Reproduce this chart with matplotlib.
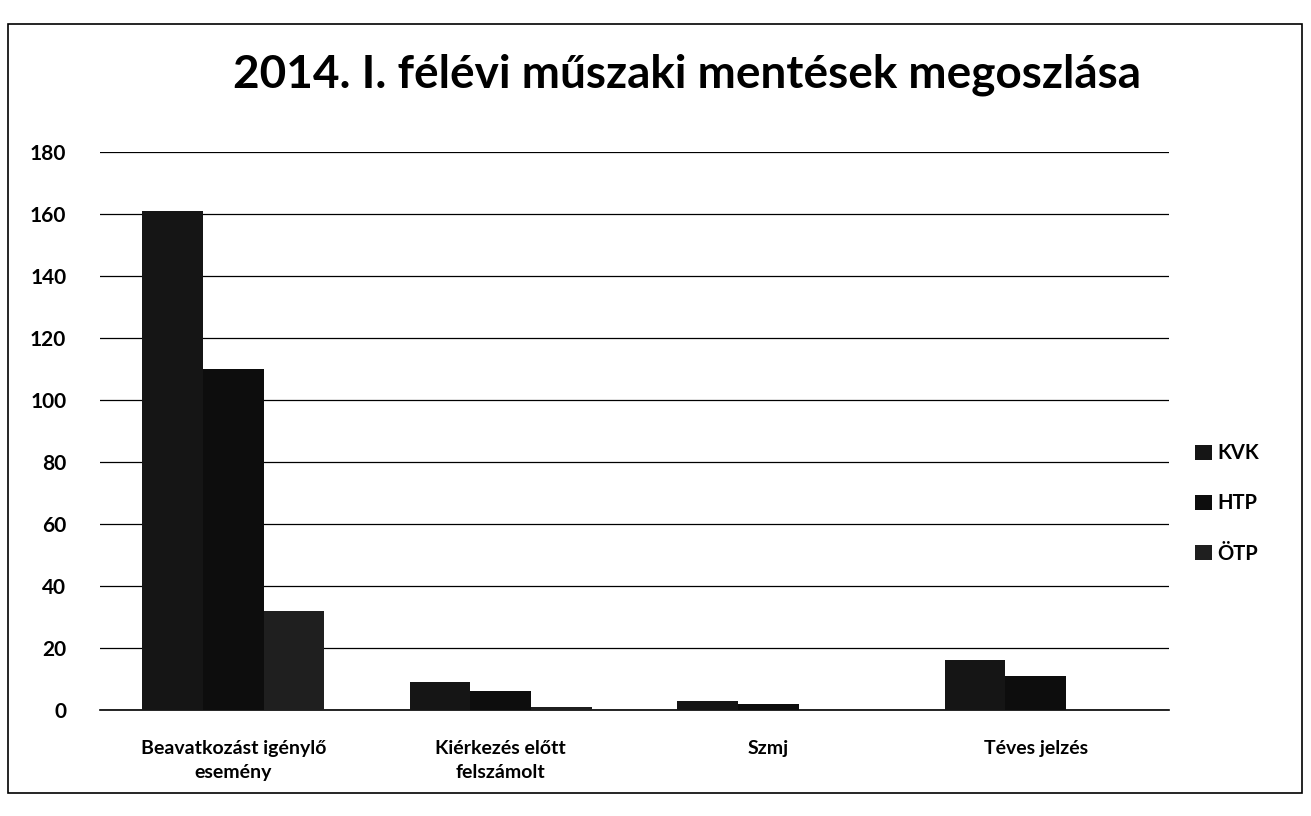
import matplotlib
matplotlib.use("Agg")
import matplotlib.pyplot as plt
from matplotlib.patches import Rectangle
import numpy as np

plt.rcParams['font.family'] = ['Lato', 'DejaVu Sans']

categories = ["Beavatkozást igénylő\nesemény", "Kiérkezés előtt\nfelszámolt", "Szmj", "Téves jelzés"]
series = ["KVK", "HTP", "ÖTP"]
kvk = [161, 9, 3, 16]
htp = [110, 6, 2, 11]
otp = [32, 1, 0, 0]
colors = ["#151515", "#0d0d0d", "#1f1f1f"]

fig = plt.figure(figsize=(13.11, 8.16), dpi=100)
ax = fig.add_axes([0.076, 0.130, 0.816, 0.684])

x = np.arange(len(categories))
w = 0.227
for i, (vals, name) in enumerate(zip([kvk, htp, otp], series)):
    ax.bar(x + (i - 1) * w, vals, width=w, color=colors[i], label=name, zorder=3)

ax.set_ylim(0, 180)
ax.set_xlim(-0.5, len(categories) - 0.5)
ax.set_yticks(range(0, 181, 20))
ax.yaxis.grid(True, color="black", linewidth=0.9, zorder=0)
ax.set_xticks(x)
ax.set_xticklabels(categories, fontsize=14, fontweight="bold", linespacing=1.45)
for lbl in ax.get_yticklabels():
    lbl.set_fontsize(15)
    lbl.set_fontweight("bold")
ax.tick_params(axis="x", length=0, pad=22)
ax.tick_params(axis="y", length=0, pad=24)
for s in ["top", "right", "left"]:
    ax.spines[s].set_visible(False)
ax.spines["bottom"].set_color("black")
ax.spines["bottom"].set_linewidth(1.2)

fig.suptitle("2014. I. félévi műszaki mentések megoszlása", x=0.524, y=0.935,
             fontsize=33, fontweight="bold")

leg = fig.legend(loc="center left", bbox_to_anchor=(0.898, 0.383), frameon=False,
                 handlelength=0.8, handleheight=0.8, handletextpad=0.3,
                 labelspacing=1.5, prop={"weight": "bold", "size": 14.5})

fig.patches.append(Rectangle((0.006, 0.028), 0.987, 0.942, transform=fig.transFigure,
                             fill=False, edgecolor="black", linewidth=1.2))

fig.savefig("out.png", dpi=100)
